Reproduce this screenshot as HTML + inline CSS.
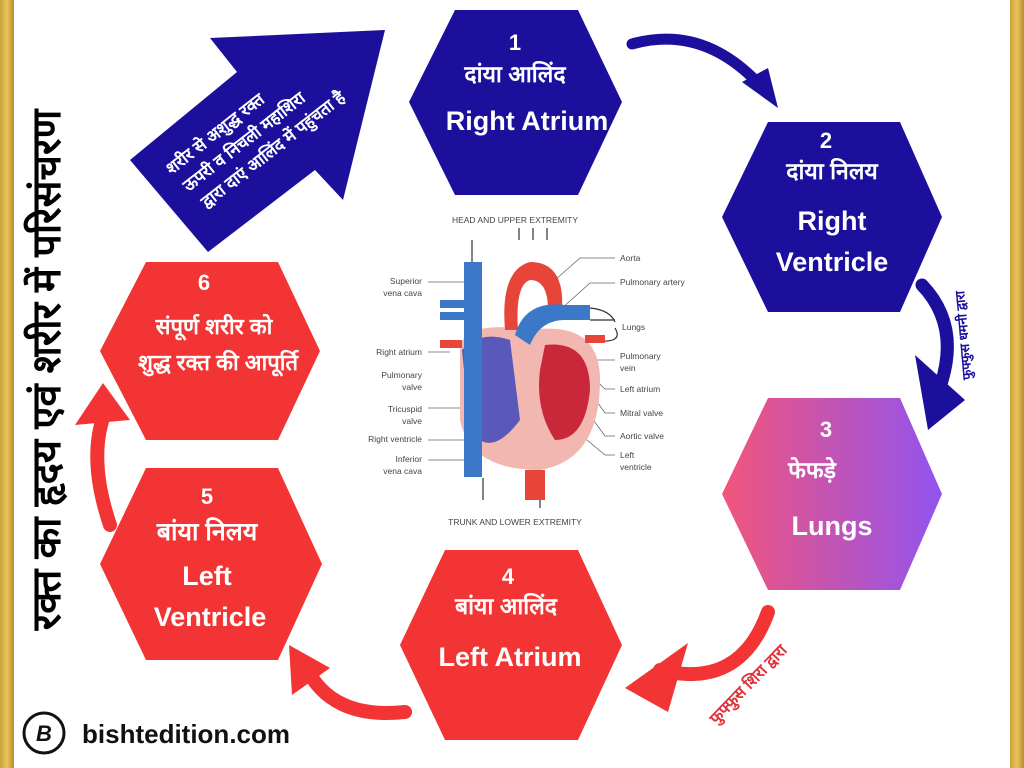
<!DOCTYPE html>
<html><head><meta charset="utf-8"><style>
html,body{margin:0;padding:0;width:1024px;height:768px;overflow:hidden;background:#fff}
svg{display:block}
</style></head><body>
<svg width="1024" height="768" viewBox="0 0 1024 768" xmlns="http://www.w3.org/2000/svg" font-family="Liberation Sans, Noto Sans CJK SC, sans-serif">
<defs>
<linearGradient id="gold" x1="0" y1="0" x2="1" y2="0"><stop offset="0" stop-color="#c9a13a"/><stop offset=".5" stop-color="#e8c45a"/><stop offset="1" stop-color="#b88d2c"/></linearGradient>
<linearGradient id="g3" x1="0" y1="0" x2="1" y2="0"><stop offset="0" stop-color="#f2557a"/><stop offset="1" stop-color="#9253ef"/></linearGradient>
</defs>
<rect x="0" y="0" width="14" height="768" fill="url(#gold)"/>
<rect x="1010" y="0" width="14" height="768" fill="url(#gold)"/>

<polygon points="210,38 385,30 343,200 315,170 208,252 130,160 237,72" fill="#1b0f9c"/>
<g transform="translate(245,143) rotate(-38)" fill="#fff" font-weight="bold" font-size="17" text-anchor="middle">
<text x="-18" y="-20">शरीर से अशुद्ध रक्त</text>
<text x="0" y="4">ऊपरी व निचली महाशिरा</text>
<text x="18" y="28">द्वारा दाएं आलिंद में पहुंचता है</text>
</g>

<text transform="translate(60,370) rotate(-90)" text-anchor="middle" font-size="40" font-weight="bold" fill="#000">रक्त का हृदय एवं शरीर में परिसंचरण</text>

<polygon points="455,10 578,10 622,102 578,195 455,195 409,102" fill="#1b0f9c"/>
<polygon points="768,122 900,122 942,217 900,312 768,312 722,217" fill="#1b0f9c"/>
<polygon points="768,398 900,398 942,494 900,590 768,590 722,494" fill="url(#g3)"/>
<polygon points="445,550 578,550 622,645 578,740 445,740 400,645" fill="#f23434"/>
<polygon points="146,468 278,468 322,564 278,660 146,660 100,564" fill="#f23434"/>
<polygon points="146,262 278,262 320,351 278,440 146,440 100,351" fill="#f23434"/>

<g fill="#fff" font-weight="bold" text-anchor="middle">
<text x="515" y="50" font-size="22">1</text>
<text x="515" y="82" font-size="23">दांया आलिंद</text>
<text x="527" y="130" font-size="27">Right Atrium</text>
<text x="826" y="148" font-size="22">2</text>
<text x="832" y="179" font-size="23">दांया निलय</text>
<text x="832" y="230" font-size="27">Right</text>
<text x="832" y="271" font-size="27">Ventricle</text>
<text x="826" y="437" font-size="22">3</text>
<text x="812" y="478" font-size="23">फेफड़े</text>
<text x="832" y="535" font-size="27">Lungs</text>
<text x="508" y="584" font-size="22">4</text>
<text x="506" y="614" font-size="23">बांया आलिंद</text>
<text x="510" y="666" font-size="27">Left Atrium</text>
<text x="207" y="504" font-size="22">5</text>
<text x="207" y="540" font-size="25">बांया निलय</text>
<text x="207" y="585" font-size="27">Left</text>
<text x="210" y="626" font-size="27">Ventricle</text>
<text x="204" y="290" font-size="22">6</text>
<text x="214" y="334" font-size="22">संपूर्ण शरीर को</text>
<text x="218" y="370" font-size="22">शुद्ध रक्त की आपूर्ति</text>
</g>

<g fill="none" stroke-linecap="round">
<path d="M632,44 Q700,25 755,80" stroke="#1b0f9c" stroke-width="11"/>
<path d="M922,285 Q965,330 935,400" stroke="#1b0f9c" stroke-width="13"/>
<path d="M768,612 Q740,690 660,670" stroke="#f23434" stroke-width="14"/>
<path d="M405,712 Q330,720 305,665" stroke="#f23434" stroke-width="14"/>
<path d="M110,525 Q88,460 104,415" stroke="#f23434" stroke-width="14"/>
</g>
<polygon points="742,82 778,108 768,68" fill="#1b0f9c"/>
<polygon points="915,355 928,430 965,400" fill="#1b0f9c"/>
<polygon points="688,643 625,688 668,712" fill="#f23434"/>
<polygon points="289,645 292,695 330,668" fill="#f23434"/>
<polygon points="75,425 103,383 130,420" fill="#f23434"/>
<text transform="translate(968,335) rotate(-95)" text-anchor="middle" font-size="13" font-weight="bold" fill="#1b0f9c">फुफ्फुस धमनी द्वारा</text>
<text transform="translate(752,688) rotate(-46)" text-anchor="middle" font-size="16" font-weight="bold" fill="#e0303a">फुफ्फुस शिरा द्वारा</text>

<g font-size="8.5" fill="#444">
<text x="515" y="223" text-anchor="middle">HEAD AND UPPER EXTREMITY</text>
<text x="515" y="525" text-anchor="middle">TRUNK AND LOWER EXTREMITY</text>
<text x="422" y="284" text-anchor="end">Superior</text><text x="422" y="296" text-anchor="end">vena cava</text>
<text x="422" y="355" text-anchor="end">Right atrium</text>
<text x="422" y="378" text-anchor="end">Pulmonary</text><text x="422" y="390" text-anchor="end">valve</text>
<text x="422" y="412" text-anchor="end">Tricuspid</text><text x="422" y="424" text-anchor="end">valve</text>
<text x="422" y="442" text-anchor="end">Right ventricle</text>
<text x="422" y="462" text-anchor="end">Inferior</text><text x="422" y="474" text-anchor="end">vena cava</text>
<text x="620" y="261">Aorta</text>
<text x="620" y="285">Pulmonary artery</text>
<text x="622" y="330">Lungs</text>
<text x="620" y="359">Pulmonary</text><text x="620" y="371">vein</text>
<text x="620" y="392">Left atrium</text>
<text x="620" y="416">Mitral valve</text>
<text x="620" y="439">Aortic valve</text>
<text x="620" y="458">Left</text><text x="620" y="470">ventricle</text>
</g>
<g stroke="#666" stroke-width="0.8" fill="none">
<path d="M428,282 H470 M428,352 H450 M428,440 H500 M428,460 H470 M428,408 H480 M555,280 L580,258 H615 M560,310 L590,283 H615 M580,360 H615 M585,370 L605,389 H615 M580,378 L605,413 H615 M575,395 L605,436 H615 M575,430 L605,455 H615"/>
<path d="M472,240 V268 M519,240 V228 M533,240 V228 M547,240 V228 M483,500 V478 M540,480 V508" stroke="#333" stroke-width="1.2"/>
<path d="M590,308 Q610,310 615,322 M590,320 H615 M590,340 Q625,345 615,328" stroke="#333" stroke-width="1.2"/>
</g>
<path d="M460,345 Q470,320 530,330 Q600,320 600,380 Q600,460 540,470 Q470,470 460,420 Z" fill="#f2b7b0"/>
<path d="M462,350 Q480,330 510,340 L520,420 Q490,460 470,430 Z" fill="#5a58b8"/>
<path d="M545,345 Q590,340 590,390 Q585,440 555,440 Q535,410 540,370 Z" fill="#c9283a"/>
<rect x="464" y="262" width="18" height="215" fill="#3b78c8"/>
<rect x="440" y="300" width="30" height="8" fill="#3b78c8"/>
<rect x="440" y="312" width="30" height="8" fill="#3b78c8"/>
<path d="M505,330 Q500,270 530,262 Q565,262 562,310 L548,310 Q548,280 530,280 Q515,285 518,330 Z" fill="#e8453a"/>
<rect x="525" y="470" width="20" height="30" fill="#e8453a"/>
<path d="M515,335 Q525,300 565,305 L590,305 L590,320 L565,320 Q540,320 530,345 Z" fill="#3b78c8"/>
<rect x="440" y="340" width="22" height="8" fill="#e8453a"/>
<rect x="585" y="335" width="20" height="8" fill="#e8453a"/>

<circle cx="44" cy="733" r="20" fill="none" stroke="#111" stroke-width="3"/>
<text x="44" y="741" text-anchor="middle" font-size="22" font-weight="bold" font-style="italic" fill="#111">B</text>
<text x="82" y="743" font-size="26" font-weight="bold" fill="#111">bishtedition.com</text>
</svg>
</body></html>
